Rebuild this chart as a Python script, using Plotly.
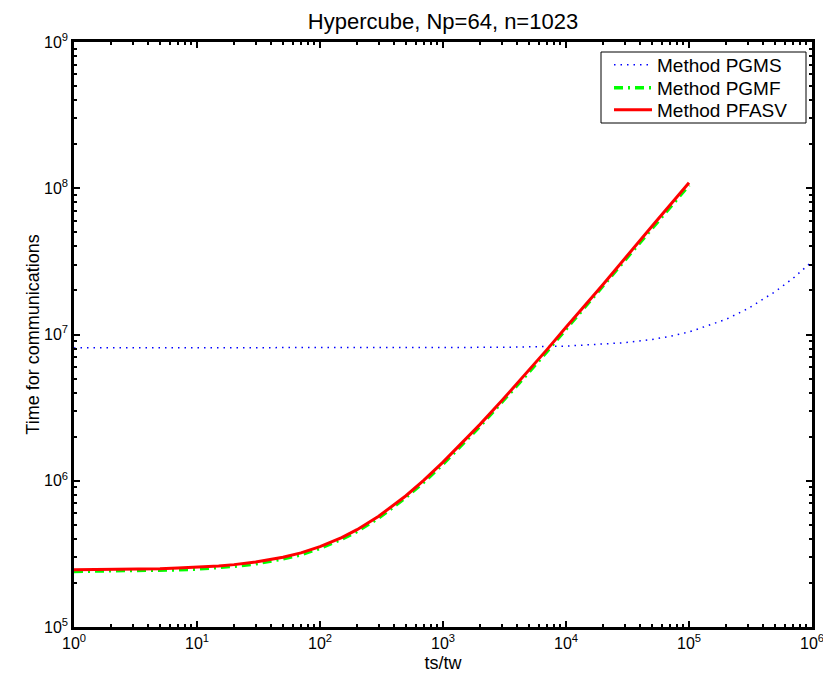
import plotly.graph_objects as go

# ---- data ----
x_pf = [1, 2, 3, 5, 7, 10, 15, 20, 30, 50, 70, 100, 150, 200, 300, 500, 700,
        1000, 2000, 3000, 5000, 7000, 10000, 20000, 50000, 100000]
pfasv = [2.46e5, 2.47e5, 2.48e5, 2.50e5, 2.53e5, 2.56e5, 2.61e5, 2.67e5, 2.78e5,
         3.00e5, 3.21e5, 3.54e5, 4.09e5, 4.63e5, 5.72e5, 7.90e5, 1.01e6,
         1.34e6, 2.43e6, 3.52e6, 5.70e6, 7.88e6, 1.12e7, 2.20e7, 5.50e7, 1.09e8]
pgmf = [2.40e5, 2.41e5, 2.42e5, 2.44e5, 2.46e5, 2.49e5, 2.54e5, 2.60e5, 2.70e5,
        2.92e5, 3.12e5, 3.45e5, 3.98e5, 4.50e5, 5.56e5, 7.70e5, 9.80e5,
        1.30e6, 2.36e6, 3.42e6, 5.52e6, 7.65e6, 1.09e7, 2.14e7, 5.30e7, 1.05e8]
x_gs = [1, 10, 100, 1000, 3000, 10000, 20000, 30000, 50000, 70000, 100000,
        200000, 300000, 500000, 700000, 1000000]
pgms = [8.10e6, 8.10e6, 8.10e6, 8.12e6, 8.17e6, 8.33e6, 8.56e6, 8.79e6, 9.25e6,
        9.71e6, 1.04e7, 1.27e7, 1.50e7, 1.96e7, 2.42e7, 3.15e7]

series_names = ["Method PGMS", "Method PGMF", "Method PFASV"]

x_tickvals = [1, 10, 100, 1000, 10000, 100000, 1000000]
x_ticktext = ["10<sup>0</sup>", "10<sup>1</sup>", "10<sup>2</sup>", "10<sup>3</sup>",
              "10<sup>4</sup>", "10<sup>5</sup>", "10<sup>6</sup>"]
y_tickvals = [1e5, 1e6, 1e7, 1e8, 1e9]
y_ticktext = ["10<sup>5</sup>", "10<sup>6</sup>", "10<sup>7</sup>", "10<sup>8</sup>", "10<sup>9</sup>"]

x_minor = [m * 10 ** e for e in range(0, 6) for m in range(2, 10)]
y_minor = [m * 10 ** e for e in range(5, 9) for m in range(2, 10)]

FONT = "Liberation Sans, Arial, Helvetica, sans-serif"

# page body has an 8px margin: compensate so the axes land where the reference has them
OFF = 8
W, H = 831, 679
AX_L, AX_R, AX_T, AX_B = 74, 812, 42, 627
L, R, T, B = AX_L - OFF, W - AX_R + OFF, AX_T - OFF, H - AX_B + OFF


def px_x(px):
    return (px - AX_L) / (AX_R - AX_L)


def px_y(py):
    return (AX_B - py) / (AX_B - AX_T)


fig = go.Figure()
fig.add_trace(go.Scatter(x=x_gs, y=pgms, mode="lines", name=series_names[0], legend="legend",
                         line=dict(color="#0000ff", width=1.5, dash="1.5px,5px")))
fig.add_trace(go.Scatter(x=x_pf, y=pgmf, mode="lines", name=series_names[1], legend="legend2",
                         line=dict(color="#00ff00", width=3.5, dash="9px,5px,2px,5px")))
fig.add_trace(go.Scatter(x=x_pf, y=pfasv, mode="lines", name=series_names[2], legend="legend3",
                         line=dict(color="#ff0000", width=3)))

axis_common = dict(showline=True, linecolor="black", linewidth=2.5, mirror="allticks",
                   ticks="inside", ticklen=6, tickwidth=2, tickcolor="black",
                   showgrid=False, zeroline=False, automargin=False,
                   tickfont=dict(family=FONT, size=16, color="black"))

fig.update_xaxes(type="log", range=[0, 6], tickmode="array",
                 tickvals=x_tickvals, ticktext=x_ticktext,
                 minor=dict(tickmode="array", tickvals=x_minor, ticks="inside", ticklen=3,
                            tickwidth=2, tickcolor="black", showgrid=False),
                 title=dict(text="ts/tw", font=dict(family=FONT, size=18, color="black"), standoff=6),
                 **axis_common)
fig.update_yaxes(type="log", range=[5, 9], tickmode="array",
                 tickvals=y_tickvals, ticktext=y_ticktext,
                 minor=dict(tickmode="array", tickvals=y_minor, ticks="inside", ticklen=3,
                            tickwidth=2, tickcolor="black", showgrid=False),
                 title=dict(text="Time for communications", font=dict(family=FONT, size=18, color="black"), standoff=0),
                 **axis_common)

leg_common = dict(xanchor="left", yanchor="middle", bgcolor="rgba(0,0,0,0)", borderwidth=0,
                  font=dict(family=FONT, size=19, color="black"), itemwidth=38)
row_y = [65, 88, 110]

fig.update_layout(
    width=W, height=H,
    margin=dict(l=L, r=R, t=T, b=B),
    paper_bgcolor="white", plot_bgcolor="white",
    title=dict(text="Hypercube, Np=64, n=1023", x=(L + (W - R)) / 2 / W, xanchor="center",
               y=1 - (21 - OFF) / H, yanchor="middle",
               font=dict(family=FONT, size=22, color="black")),
    legend=dict(x=px_x(609), y=px_y(row_y[0]), **leg_common),
    legend2=dict(x=px_x(609), y=px_y(row_y[1]), **leg_common),
    legend3=dict(x=px_x(609), y=px_y(row_y[2]), **leg_common),
    showlegend=True,
    shapes=[dict(type="rect", xref="paper", yref="paper",
                 x0=px_x(601), x1=px_x(806), y0=px_y(123), y1=px_y(52),
                 line=dict(color="black", width=1), fillcolor="white", layer="below")],
)

fig.write_html("out.html")
